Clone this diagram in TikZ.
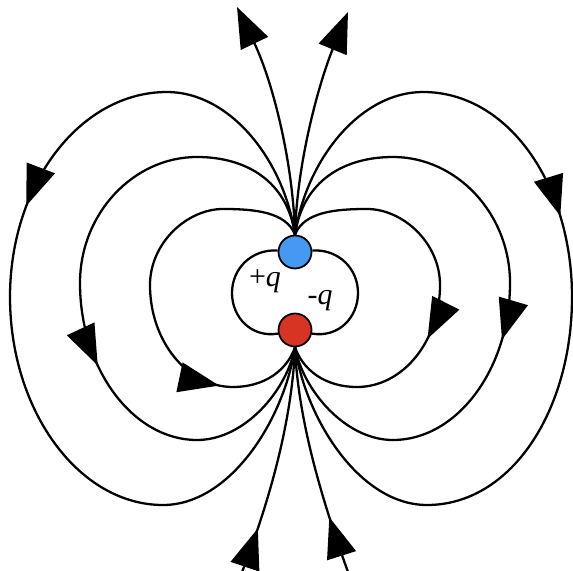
\documentclass[tikz,border=0pt]{standalone}
\usepackage{fontspec}
\setmainfont{Liberation Serif}
\usetikzlibrary{arrows.meta,decorations.markings}
\definecolor{posblue}{RGB}{70,153,240}
\definecolor{negred}{RGB}{216,52,36}

\begin{document}
\begin{tikzpicture}[
  x=0.02cm, y=-0.02cm,
  charge/.style={circle, draw, line width=1pt, minimum size=0.66cm, inner sep=0pt},
  field/.style={line width=1.3pt},
  midtip/.style={postaction={decorate}, decoration={markings, mark=at position #1 with {\arrow{Triangle[length=23pt, width=17pt]}}}},
  lbl/.style={font=\fontsize{17}{19}\selectfont},
]
  \useasboundingbox (0,0) rectangle (573,570);

  % charges
  \node[charge, fill=posblue] (pos) at (295,252) {};
  \node[charge, fill=negred] (neg) at (295,330) {};
  \node[lbl] (plus) at (265,281) {+\textit{q}};
  \node[lbl] (minus) at (320,301) {-\textit{q}};

  % inner loops
  \draw[field] (pos.175) .. controls (251,249) and (232,269) .. (232,293) .. controls (232,317) and (251,338) .. (neg.192);
  \draw[field] (pos.5) .. controls (339,249) and (358,269) .. (358,293) .. controls (358,317) and (339,338) .. (neg.-12);

  % left loops
  \draw[field, midtip=0.78] (pos.north) .. controls (286,212) and (255,209) .. (223,209) .. controls (187,209) and (150,243) .. (150,285) .. controls (150,341) and (187,387) .. (233,387) .. controls (265,387) and (287,370) .. (neg.south);
  \draw[field, midtip=0.60] (pos.north) .. controls (287,180) and (245,157) .. (197,157) .. controls (133,157) and (80,214) .. (80,283) .. controls (80,369) and (133,440) .. (197,440) .. controls (245,440) and (287,390) .. (neg.south);
  \draw[field, midtip=0.40] (pos.north) .. controls (284,160) and (230,92) .. (167,92) .. controls (80,92) and (10,184) .. (10,297) .. controls (10,411) and (79,505) .. (163,505) .. controls (230,505) and (284,420) .. (neg.south);

  % right loops
  \draw[field, midtip=0.60] (pos.north) .. controls (304,212) and (335,209) .. (367,209) .. controls (403,209) and (440,243) .. (440,285) .. controls (440,341) and (403,387) .. (357,387) .. controls (325,387) and (303,370) .. (neg.south);
  \draw[field, midtip=0.56] (pos.north) .. controls (303,180) and (345,157) .. (393,157) .. controls (457,157) and (510,214) .. (510,283) .. controls (510,369) and (457,440) .. (393,440) .. controls (345,440) and (303,390) .. (neg.south);
  \draw[field, midtip=0.41] (pos.north) .. controls (306,160) and (360,92) .. (423,92) .. controls (508,92) and (572,184) .. (572,297) .. controls (572,411) and (511,505) .. (427,505) .. controls (360,505) and (306,420) .. (neg.south);

  % open lines
  \coordinate (topL) at (237,7);
  \coordinate (topR) at (348,12);
  \coordinate (botL) at (242,572);
  \coordinate (botR) at (348,572);
  \draw[field, -{Triangle[length=23pt, width=17pt]}] (pos.north) .. controls (293,160) and (272,80) .. (topL);
  \draw[field, -{Triangle[length=23pt, width=17pt]}] (pos.north) .. controls (297,160) and (320,80) .. (topR);
  \draw[field, midtip=0.2] (botL) .. controls (270,500) and (292,420) .. (neg.south);
  \draw[field, midtip=0.25] (botR) .. controls (322,500) and (298,420) .. (neg.south);
\end{tikzpicture}
\end{document}
